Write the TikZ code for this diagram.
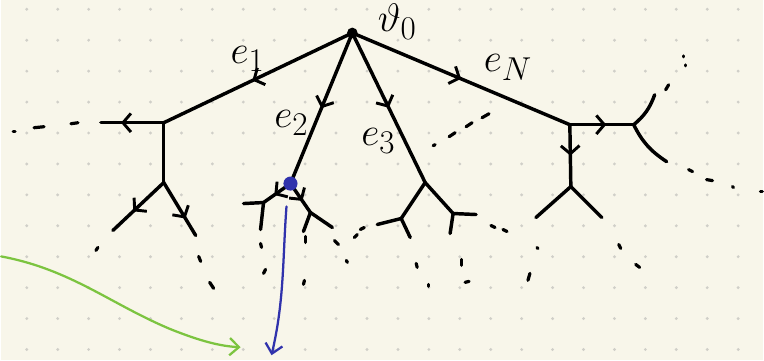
\documentclass[tikz,border=0pt]{standalone}
\usetikzlibrary{arrows.meta,decorations.markings}

\definecolor{paper}{RGB}{248,246,234}
\definecolor{griddot}{RGB}{208,207,200}
\definecolor{penblue}{RGB}{48,50,172}
\definecolor{pengreen}{RGB}{124,196,64}

\newcommand{\hand}[1]{\scalebox{1.2}{#1}}

\tikzset{
    edge/.style={line width=2.6pt, line cap=round, line join=round},
    trail/.style={line width=2.4pt, line cap=round},
    midtip/.style={postaction={decorate},
        decoration={markings, mark=at position #1 with {\arrow{Straight Barb[length=6pt, width=14pt, line width=2.2pt]}}}},
    lbl/.style={font=\fontsize{24.88}{28}\selectfont, inner sep=0pt},
    ink/.style={line width=1.7pt, line cap=round, -{Straight Barb[length=7pt, width=13pt, line width=1.7pt]}},
}

\begin{document}
\begin{tikzpicture}[x=0.75pt, y=-0.75pt]
    \fill[paper] (0,0) rectangle (764,361);
    \foreach \i in {0,...,23}
        \foreach \j in {0,...,11}
            \fill[griddot] (25.7+31*\i, 9.3+31*\j) circle (1.2pt);

    \coordinate (v0) at (352,33);
    \coordinate (a) at (163,123);
    \coordinate (a1) at (100,123);
    \coordinate (a2) at (163,183);
    \coordinate (a21) at (112,231);
    \coordinate (a22) at (195,236);
    \coordinate (b) at (290,184);
    \coordinate (b1) at (263,203);
    \coordinate (b11) at (243,204);
    \coordinate (b12) at (260,230);
    \coordinate (b2) at (310,213);
    \coordinate (b21) at (303,232);
    \coordinate (b22) at (332,228);
    \coordinate (c) at (425,183);
    \coordinate (c1) at (401,219);
    \coordinate (c11) at (377,225);
    \coordinate (c12) at (410,238);
    \coordinate (c2) at (453,214);
    \coordinate (c21) at (476,215);
    \coordinate (c22) at (450,234);
    \coordinate (d) at (570,125);
    \coordinate (d1) at (634,125);
    \coordinate (d11) at (655,95);
    \coordinate (d12) at (667,162);
    \coordinate (d2) at (571,187);
    \coordinate (d21) at (536,218);
    \coordinate (d22) at (602,218);

    \draw[edge, midtip=0.53] (v0) -- (a);
    \draw[edge, midtip=0.5] (v0) -- (b);
    \draw[edge, midtip=0.5] (v0) -- (c);
    \draw[edge, midtip=0.5] (v0) -- (d);

    \draw[edge, midtip=0.68] (a) -- (a1);
    \draw[edge] (a) -- (a2);
    \draw[edge, midtip=0.6] (a2) -- (a21);
    \draw[edge, midtip=0.68] (a2) -- (a22);

    \draw[edge, midtip=0.6] (b) -- (b1);
    \draw[edge] (b1) -- (b11);
    \draw[edge] (b1) -- (b12);
    \draw[edge, midtip=0.6] (b) -- (b2);
    \draw[edge] (b2) -- (b21);
    \draw[edge] (b2) -- (b22);

    \draw[edge] (c) -- (c1);
    \draw[edge] (c1) -- (c11);
    \draw[edge] (c1) -- (c12);
    \draw[edge] (c) -- (c2);
    \draw[edge] (c2) -- (c21);
    \draw[edge] (c2) -- (c22);

    \draw[edge, midtip=0.57] (d) -- (d1);
    \draw[edge] (d1) to[bend right=15] (d11);
    \draw[edge] (d1) to[bend right=15] (d12);
    \draw[edge, midtip=0.5] (d) -- (d2);
    \draw[edge] (d2) -- (d21);
    \draw[edge] (d2) -- (d22);

    \foreach \xa/\ya/\xb/\yb in {12/132/14/132, 33/128/43/127, 70/124/77/123,
            95/251/97/248, 198/257/200/262, 209/283/213/289,
            260/244/261/248, 263/274/265/270, 305/237/305/243, 303/285/304/281,
            334/241/338/245, 346/261/347/263, 354/238/357/235, 360/230/364/228,
            416/264/417/268, 428/285/428/287, 461/260/461/266, 465/283/469/282,
            491/226/495/228, 503/230/507/232,
            433/146/435/145, 449/137/455/133, 466/127/472/123, 482/118/489/114,
            537/248/538/249, 528/281/530/274, 619/245/621/249, 636/265/640/268,
            689/170/693/172, 707/180/713/181, 733/187/734/188, 761/192/763/192,
            666/90/669/85, 684/56/684/57, 686/65/686/66}
        \draw[trail] (\xa,\ya) -- (\xb,\yb);

    \fill (v0) circle (4pt);
    \fill[penblue] (b) circle (5.3pt);

    \node[lbl] (lv0) at (397,22) {\hand{$\vartheta_0$}};
    \node[lbl] (le1) at (247,59) {\hand{$e_1$}};
    \node[lbl] (le2) at (291,123) {\hand{$e_2$}};
    \node[lbl] (le3) at (378,141) {\hand{$e_3$}};
    \node[lbl] (leN) at (508,68) {\hand{$e_N$}};

    \coordinate (bs) at (286,207);
    \coordinate (be) at (271,356);
    \draw[ink, penblue] (bs) .. controls (282,260) and (284,300) .. (be);

    \coordinate (gs) at (0,257);
    \coordinate (ge) at (240,348);
    \draw[ink, pengreen] (gs) .. controls (70,270) and (110,305) .. (170,330)
        .. controls (200,342) and (220,347) .. (ge);
\end{tikzpicture}
\end{document}
